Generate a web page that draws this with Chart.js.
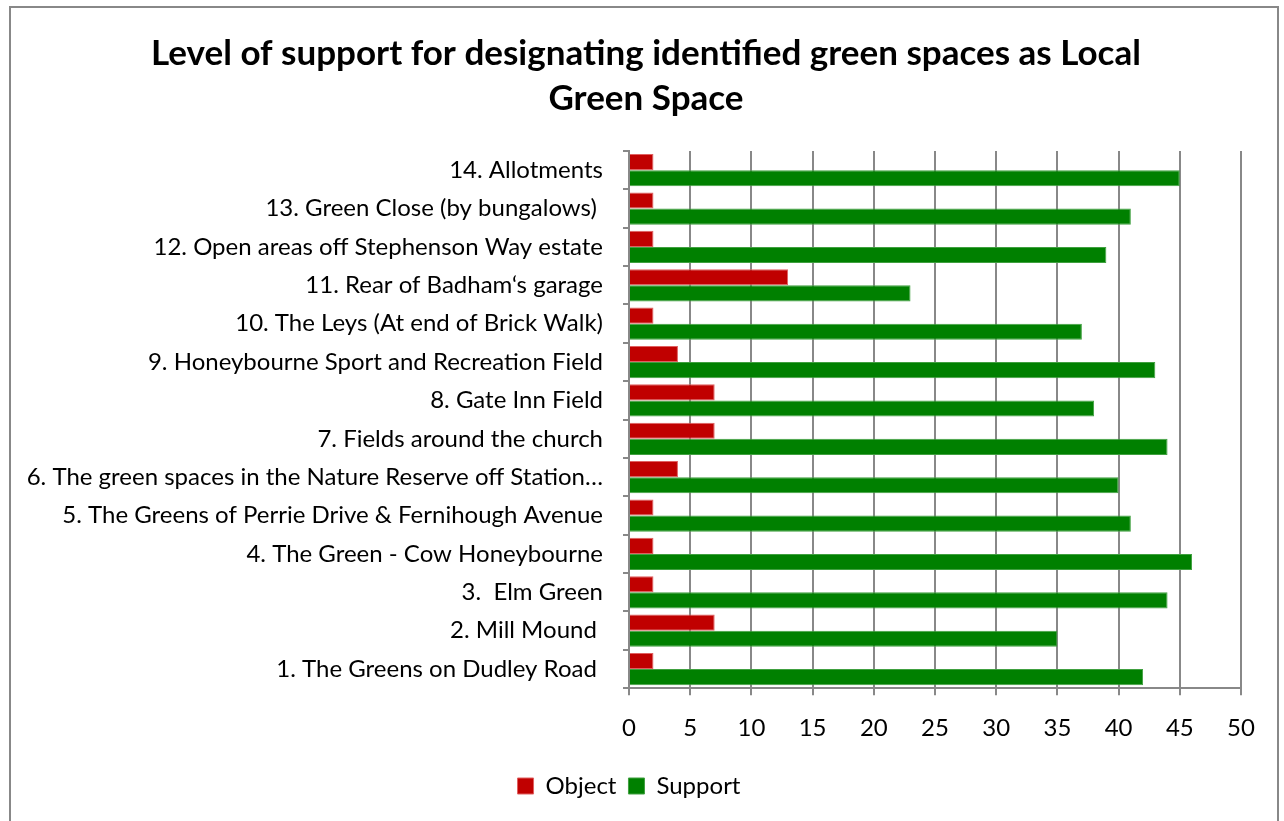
<!DOCTYPE html>
<html>
<head>
<meta charset="utf-8">
<script src="https://cdn.jsdelivr.net/npm/chart.js@4"></script>
<style>
  body { margin: 0; background: #fff; }
  #frame { position: absolute; left: 9px; top: 6px; width: 1270px; height: 830px; border: 2px solid #888; box-sizing: border-box; }
  #wrap { position: absolute; left: 0; top: 0; width: 1266px; height: 826px; }
</style>
</head>
<body>
<div id="frame"><div id="wrap"><canvas id="chart"></canvas></div></div>
<script>
// categories, top to bottom as in the picture
const categories = [
  '14. Allotments',
  '13. Green Close (by bungalows) ',
  '12. Open areas off Stephenson Way estate',
  '11. Rear of Badham\u2018s garage',
  '10. The Leys (At end of Brick Walk)',
  '9. Honeybourne Sport and Recreation Field',
  '8. Gate Inn Field',
  '7. Fields around the church',
  '6. The green spaces in the Nature Reserve off Station\u2026',
  '5. The Greens of Perrie Drive & Fernihough Avenue',
  '4. The Green - Cow Honeybourne',
  '3.  Elm Green',
  '2. Mill Mound ',
  '1. The Greens on Dudley Road '
];
const objectValues  = [2, 2, 2, 13, 2, 4, 7, 7, 4, 2, 2, 2, 7, 2];
const supportValues = [45, 41, 39, 23, 37, 43, 38, 44, 40, 41, 46, 44, 35, 42];
const xTicks = [0, 5, 10, 15, 20, 25, 30, 35, 40, 45, 50];
const titleLines = ['Level of support for designating identified green spaces as Local', 'Green Space'];

const fontFamily = 'Lato, "Open Sans", sans-serif';

// title drawn by hand so it sits centred on the whole frame, not the padded area
const titlePlugin = {
  id: 'frameTitle',
  afterDraw(chart) {
    const ctx = chart.ctx;
    ctx.save();
    ctx.fillStyle = '#000';
    ctx.font = 'bold 35px ' + fontFamily;
    ctx.textAlign = 'center';
    ctx.textBaseline = 'middle';
    titleLines.forEach((line, i) => ctx.fillText(line, 635, 46 + i * 45));
    ctx.restore();
  }
};

new Chart(document.getElementById('chart'), {
  type: 'bar',
  data: {
    labels: categories,
    datasets: [
      { label: 'Object', data: objectValues, backgroundColor: '#c00000', borderColor: '#e06060', borderWidth: 1 },
      { label: 'Support', data: supportValues, backgroundColor: '#008000', borderColor: '#40a040', borderWidth: 1 }
    ]
  },
  plugins: [titlePlugin],
  options: {
    indexAxis: 'y',
    responsive: true,
    maintainAspectRatio: false,
    animation: false,
    layout: { padding: { left: 6, right: 36, top: 143, bottom: 26 } },
    datasets: { bar: { categoryPercentage: 0.84, barPercentage: 1 } },
    scales: {
      x: {
        min: 0, max: 50,
        afterBuildTicks: axis => { axis.ticks = xTicks.map(v => ({ value: v })); },
        grid: { color: '#888', lineWidth: 2, drawTicks: true, tickLength: 7 },
        border: { color: '#888', width: 2 },
        ticks: { color: '#000', font: { family: fontFamily, size: 24 }, padding: 19 }
      },
      y: {
        grid: { offset: true, drawOnChartArea: false, drawTicks: true, tickLength: 6, color: '#888', lineWidth: 2 },
        border: { color: '#888', width: 2 },
        ticks: { color: '#000', font: { family: fontFamily, size: 24 }, padding: 20, autoSkip: false }
      }
    },
    plugins: {
      title: { display: false },
      legend: {
        position: 'bottom',
        labels: { color: '#000', font: { family: fontFamily, size: 24 }, boxWidth: 16, boxHeight: 16, padding: 12 }
      },
      tooltip: { enabled: false }
    }
  }
});
</script>
</body>
</html>
